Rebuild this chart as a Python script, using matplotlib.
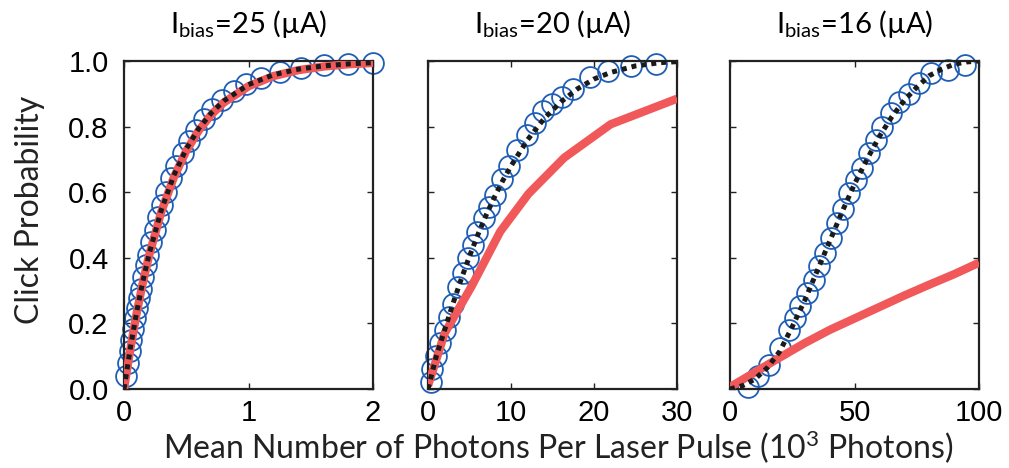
import matplotlib
matplotlib.use("Agg")
import matplotlib.pyplot as plt

plt.rcParams['mathtext.fontset'] = 'custom'
plt.rcParams['mathtext.rm'] = 'Lato'
plt.rcParams['mathtext.it'] = 'Lato:italic'

# panel titles (bias current) and x ranges
currents = [25, 20, 16]
xticks = [[0, 1, 2], [0, 10, 20, 30], [0, 50, 100]]
xlims = [2, 30, 100]

# measured click probability (circles)
x1_meas = [0.015, 0.03, 0.045, 0.06, 0.075, 0.09, 0.105, 0.12, 0.135, 0.155, 0.175, 0.195,
           0.22, 0.245, 0.275, 0.305, 0.34, 0.38, 0.42, 0.47, 0.52, 0.58, 0.64, 0.71,
           0.79, 0.88, 0.98, 1.10, 1.25, 1.42, 1.61, 1.80, 2.0]
y1_meas = [0.040, 0.078, 0.115, 0.150, 0.184, 0.216, 0.247, 0.277, 0.306, 0.342, 0.377, 0.410,
           0.448, 0.484, 0.524, 0.561, 0.601, 0.642, 0.679, 0.719, 0.755, 0.791, 0.823, 0.853,
           0.882, 0.907, 0.929, 0.949, 0.966, 0.978, 0.987, 0.992, 0.995]
x2_meas = [0.4, 0.5, 1.0, 1.5, 2.0, 2.5, 3.0, 3.6, 4.2, 4.8, 5.4, 5.9, 6.7, 7.3, 8.1, 8.9,
           9.7, 10.7, 11.9, 12.9, 13.9, 14.9, 16.1, 17.5, 19.5, 21.7, 24.4, 27.5]
y2_meas = [0.02, 0.06, 0.10, 0.14, 0.18, 0.22, 0.26, 0.31, 0.353, 0.40, 0.44, 0.48, 0.52, 0.556,
           0.59, 0.64, 0.68, 0.73, 0.775, 0.81, 0.846, 0.87, 0.89, 0.915, 0.952, 0.97, 0.985, 0.99]
x3_meas = [7.4, 11.4, 15.5, 20.2, 23.6, 26.2, 28.3, 30.9, 33.6, 35.7, 38.1, 40.4, 43.1, 45.5,
           47.8, 50.5, 53.2, 55.9, 58.5, 61.2, 64.6, 68.0, 72.0, 76.0, 80.8, 87.5, 94.2]
y3_meas = [0.005, 0.039, 0.074, 0.125, 0.18, 0.216, 0.252, 0.292, 0.333, 0.374, 0.414, 0.46,
           0.506, 0.55, 0.597, 0.638, 0.673, 0.72, 0.76, 0.80, 0.84, 0.876, 0.90, 0.932, 0.962,
           0.973, 0.988]

# fitted curve (black dotted)
x1_fit = [0, 0.05, 0.1, 0.15, 0.2, 0.3, 0.4, 0.5, 0.6, 0.7, 0.8, 1.0, 1.2, 1.4, 1.6, 1.8, 2.0]
y1_fit = [0, 0.123, 0.231, 0.326, 0.409, 0.546, 0.651, 0.732, 0.794, 0.841, 0.878, 0.928,
          0.958, 0.975, 0.985, 0.991, 0.995]
x2_fit = [0, 1, 2, 3, 4, 5, 6, 7, 8, 9, 10, 12, 14, 16, 18, 20, 22, 25, 28, 30]
y2_fit = [0, 0.10, 0.18, 0.26, 0.335, 0.405, 0.47, 0.53, 0.585, 0.635, 0.68, 0.76, 0.825,
          0.875, 0.915, 0.945, 0.965, 0.985, 0.995, 0.998]
x3_fit = [0, 5, 10, 15, 20, 25, 30, 35, 40, 45, 50, 55, 60, 65, 70, 75, 80, 85, 90, 95, 100]
y3_fit = [0.0, 0.01, 0.03, 0.065, 0.115, 0.19, 0.27, 0.36, 0.45, 0.54, 0.625, 0.70, 0.77,
          0.83, 0.88, 0.92, 0.955, 0.975, 0.99, 0.997, 1.0]

# model (red)
x1_model = [0, 0.05, 0.1, 0.15, 0.2, 0.3, 0.4, 0.5, 0.6, 0.7, 0.8, 1.0, 1.2, 1.4, 1.6, 1.8, 2.0]
y1_model = [0, 0.12, 0.228, 0.322, 0.405, 0.541, 0.645, 0.726, 0.788, 0.836, 0.873, 0.923,
            0.954, 0.972, 0.983, 0.99, 0.994]
x2_model = [0, 2, 5.25, 8.7, 12.1, 16.4, 22.0, 30]
y2_model = [0.01, 0.17, 0.313, 0.48, 0.595, 0.705, 0.807, 0.885]
x3_model = [0, 10, 20, 30, 40, 50, 60, 70, 80, 90, 100]
y3_model = [0.006, 0.051, 0.096, 0.14, 0.18, 0.215, 0.25, 0.285, 0.318, 0.35, 0.385]

meas = [(x1_meas, y1_meas), (x2_meas, y2_meas), (x3_meas, y3_meas)]
fits = [(x1_fit, y1_fit), (x2_fit, y2_fit), (x3_fit, y3_fit)]
models = [(x1_model, y1_model), (x2_model, y2_model), (x3_model, y3_model)]

fig = plt.figure(figsize=(10.09, 4.68), dpi=100)
lefts = [0.1229, 0.4242, 0.7235]

for i in range(3):
    ax = fig.add_axes([lefts[i], 0.1688, 0.2468, 0.7009])
    ax.plot(meas[i][0], meas[i][1], 'o', mfc='none', mec='#1f5eb5', ms=15, mew=1.3,
            clip_on=False, zorder=2)
    ax.plot(models[i][0], models[i][1], color='#f0585a', lw=6, solid_capstyle='butt',
            zorder=3)
    ax.plot(fits[i][0], fits[i][1], color='#1a1a1a', lw=3.6, linestyle=(0, (1, 1)),
            dash_capstyle='butt', zorder=4)
    ax.set_xlim(0, xlims[i])
    ax.set_ylim(0, 1)
    ax.set_xticks(xticks[i])
    ax.set_yticks([0, 0.2, 0.4, 0.6, 0.8, 1.0])
    if i == 0:
        ax.set_yticklabels(['0.0', '0.2', '0.4', '0.6', '0.8', '1.0'])
    else:
        ax.set_yticklabels([])
    ax.tick_params(direction='in', top=True, right=True, length=4, width=1,
                   labelsize=21, color='#222222')
    ax.tick_params(axis='x', pad=7)
    ax.tick_params(axis='y', pad=11)
    for lab in ax.get_xticklabels() + ax.get_yticklabels():
        lab.set_family('Liberation Sans')
    for sp in ax.spines.values():
        sp.set_linewidth(1.6)
        sp.set_color('#222222')
    ax.set_title('I$_{\\mathregular{bias}}$=%d (µA)' % currents[i], family='Lato',
                 fontsize=21, pad=20)

fig.text(0.553, 1 - 459 / 468, 'Mean Number of Photons Per Laser Pulse (10$^{\\mathregular{3}}$ Photons)',
         ha='center', va='baseline', family='Lato', fontsize=23, color='#222222')
fig.text(30 / 1009, 0.551, 'Click Probability', rotation=90, ha='center', va='center',
         family='Lato', fontsize=23, color='#222222')

fig.savefig('out.png', dpi=100)
